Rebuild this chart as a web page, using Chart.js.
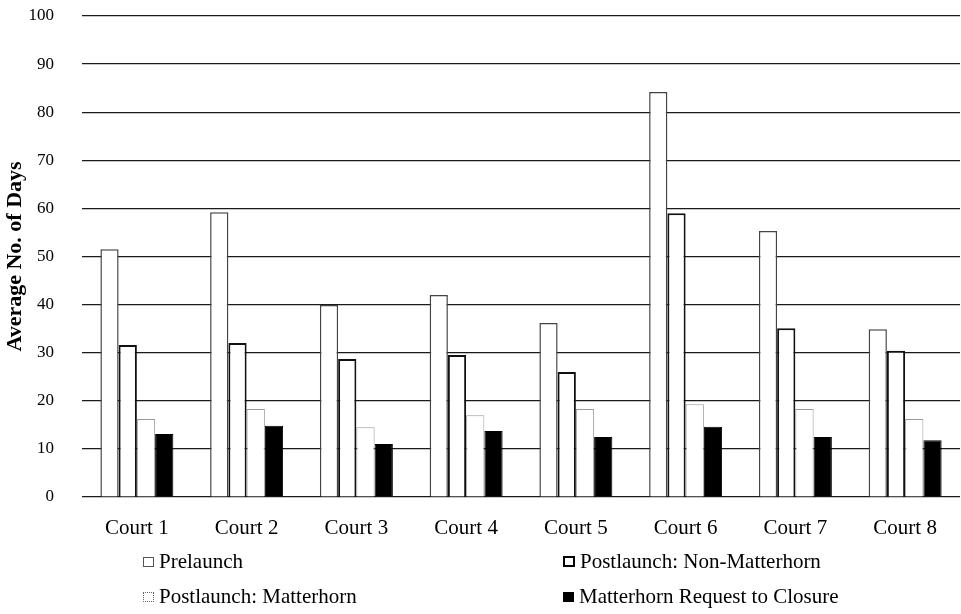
<!DOCTYPE html>
<html>
<head>
<meta charset="utf-8">
<script src="https://cdn.jsdelivr.net/npm/chart.js@4/dist/chart.umd.min.js"></script>
<style>
  body { margin: 0; background: #fff; }
  #wrap { position: relative; width: 961px; height: 614px; }
  #legend { position: absolute; left: 0; top: 0; width: 961px; height: 614px; pointer-events: none;
            font-family: "Liberation Serif", "Times New Roman", serif; font-size: 21px; color: #000; }
  .item { position: absolute; display: flex; align-items: center; white-space: nowrap; line-height: 1; }
  .box { width: 9px; height: 8px; margin-right: 5px; box-sizing: content-box; }
</style>
</head>
<body>
<div id="wrap">
  <canvas id="chart" width="961" height="614"></canvas>
  <div id="legend"></div>
</div>
<script>
// Chart data
const courts = ['Court 1', 'Court 2', 'Court 3', 'Court 4', 'Court 5', 'Court 6', 'Court 7', 'Court 8'];
const seriesNames = ['Prelaunch', 'Postlaunch: Non-Matterhorn', 'Postlaunch: Matterhorn', 'Matterhorn Request to Closure'];
const prelaunch = [51.5, 59.2, 39.9, 42.0, 36.2, 84.2, 55.3, 34.9];
const nonMatterhorn = [31.6, 32.0, 28.7, 29.5, 26.0, 59.0, 35.1, 30.4];
const matterhorn = [16.2, 18.3, 14.5, 17.0, 18.3, 19.3, 18.3, 16.2];
const requestToClosure = [13.1, 14.8, 11.0, 13.7, 12.5, 14.6, 12.5, 11.8];
const yTicks = [0, 10, 20, 30, 40, 50, 60, 70, 80, 90, 100];

const serif = '"Liberation Serif", "Times New Roman", serif';

// bar looks: white boxes with different outlines, last one solid black
const fills = ['#ffffff', '#ffffff', '#ffffff', '#000000'];
const outlines = ['#444444', '#111111', '#9a9a9a', '#000000'];
const outlineWidths = [1.5, 2, 1, 1];
const values = [prelaunch, nonMatterhorn, matterhorn, requestToClosure];

const datasets = seriesNames.map((name, i) => ({
  label: name,
  data: values[i],
  backgroundColor: fills[i],
  borderColor: outlines[i],
  borderWidth: outlineWidths[i],
  borderSkipped: 'start',
  categoryPercentage: 0.665,
  barPercentage: 1.0
}));

new Chart(document.getElementById('chart').getContext('2d'), {
  type: 'bar',
  data: { labels: courts, datasets: datasets },
  options: {
    responsive: false,
    animation: false,
    layout: { padding: { top: 16, right: 1, bottom: 57, left: 0 } },
    plugins: {
      legend: { display: false },
      tooltip: { enabled: false }
    },
    scales: {
      x: {
        grid: { display: false },
        border: { display: false },
        ticks: { color: '#000', padding: 11, font: { family: serif, size: 21 } },
        // fixed height so the plot bottom sits on the 0 line of the original
        afterFit: (s) => { s.height = 60; s.paddingLeft = 0; s.paddingRight = 0; }
      },
      y: {
        min: 0,
        max: 100,
        afterBuildTicks: (axis) => { axis.ticks = yTicks.map(v => ({ value: v })); },
        grid: { color: '#1a1a1a', lineWidth: 1.2, drawTicks: false },
        border: { display: false },
        ticks: { color: '#000', padding: 28, font: { family: serif, size: 17 } },
        title: {
          display: true,
          text: 'Average No. of Days',
          color: '#000',
          padding: { top: 2, bottom: 4 },
          font: { family: serif, size: 22, weight: 'bold' }
        },
        afterFit: (s) => { s.width = 82; s.paddingTop = 0; s.paddingBottom = 0; }
      }
    }
  }
});

// two-column legend under the axis
const legendPos = [[143, 562], [563, 562], [143, 597], [563, 597]];
const boxStyles = [
  'border:1px solid #555;background:#fff;',
  'border:2px solid #000;background:#fff;width:8px;height:7px;',
  'border:1px dotted #666;background:#fff;',
  'border:1px solid #000;background:#000;'
];
const legendEl = document.getElementById('legend');
seriesNames.forEach((name, i) => {
  const item = document.createElement('div');
  item.className = 'item';
  item.style.left = legendPos[i][0] + 'px';
  item.style.top = (legendPos[i][1] - 11) + 'px';
  item.innerHTML = `<span class="box" style="${boxStyles[i]}"></span><span>${name}</span>`;
  legendEl.appendChild(item);
});
</script>
</body>
</html>
